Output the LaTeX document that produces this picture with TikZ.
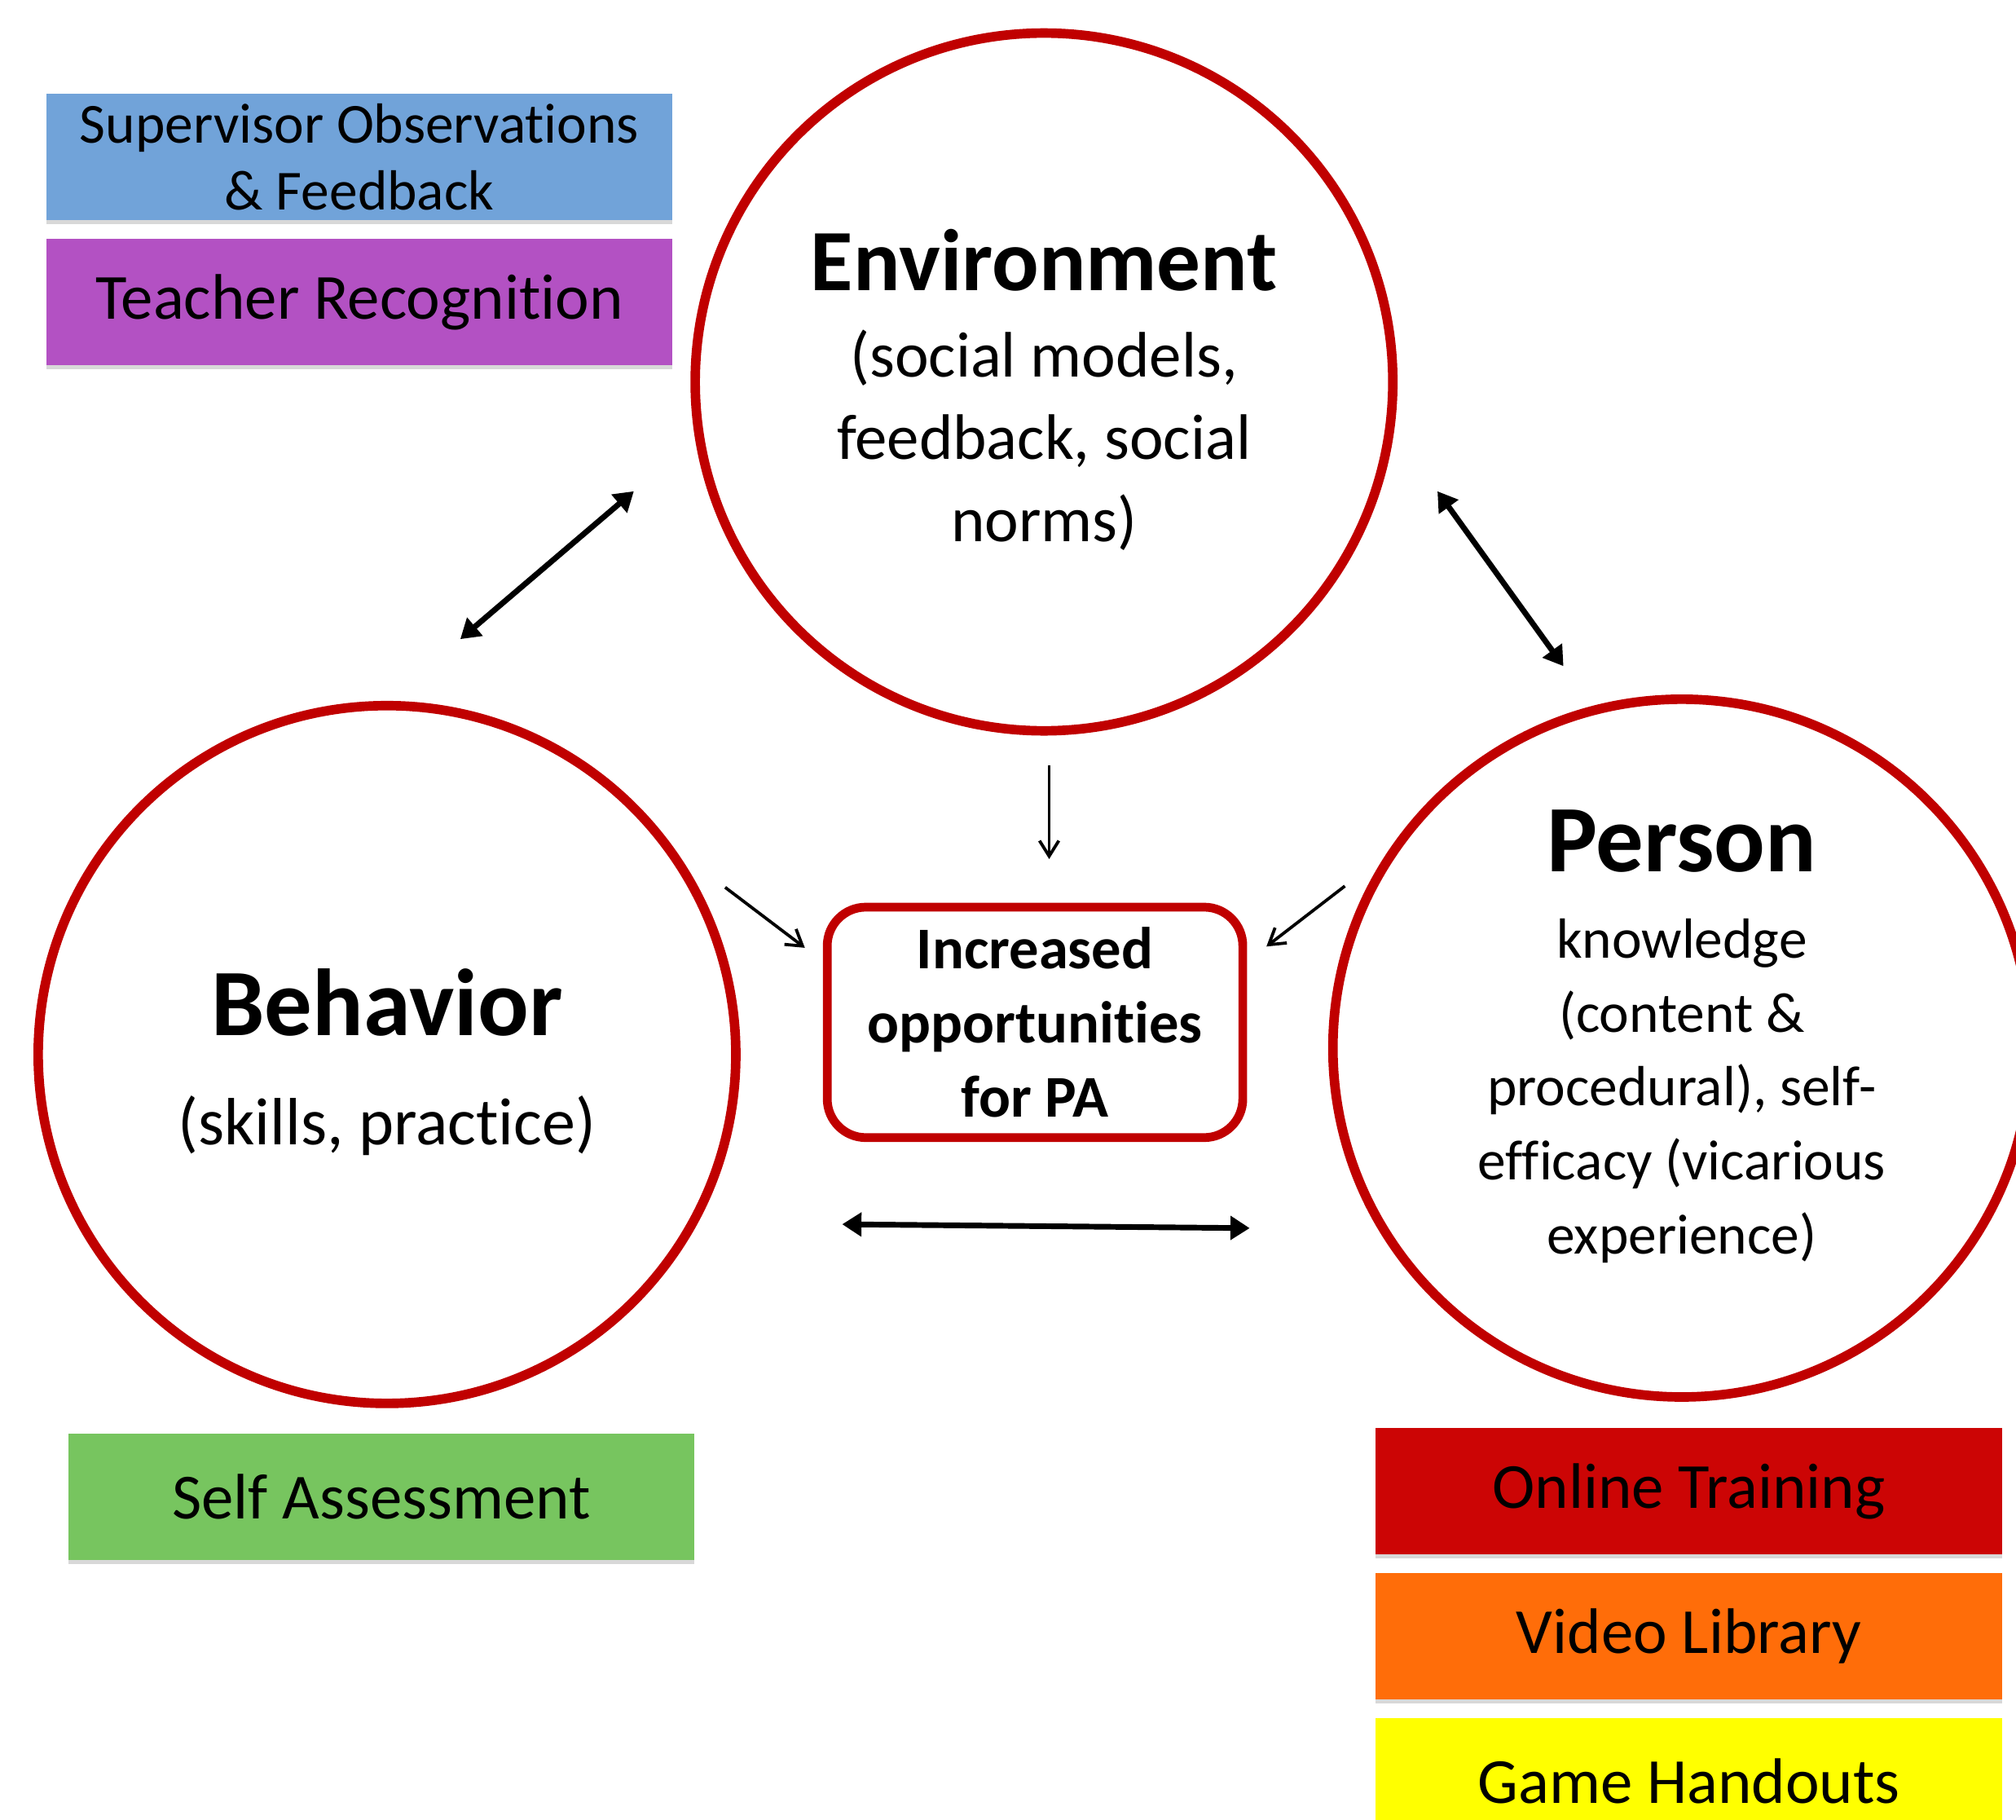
\documentclass[tikz,border=0pt]{standalone}
\usepackage{fontspec}
\setmainfont{Carlito}[Ligatures=NoCommon]
\usetikzlibrary{positioning,arrows.meta,shadows}

\definecolor{ringred}{HTML}{C00000}
\definecolor{supblue}{HTML}{71A3D9}
\definecolor{recpurple}{HTML}{B351C3}
\definecolor{selfgreen}{HTML}{77C55F}
\definecolor{onlred}{HTML}{CC0505}
\definecolor{vidorange}{HTML}{FF6D09}
\definecolor{gameyellow}{HTML}{FFFF00}

\tikzset{
  ring/.style={circle,draw=ringred,line width=3.7pt,minimum size=271.3pt,inner sep=0pt},
  hubbox/.style={rectangle,rounded corners=15pt,draw=ringred,line width=3.4pt,
    minimum width=161.6pt,minimum height=89.6pt,inner sep=0pt,align=center,
    font=\fontsize{23pt}{28.75pt}\selectfont\bfseries},
  tag/.style={rectangle,minimum width=243.5pt,minimum height=49pt,inner sep=0pt,align=center,
    font=\fontsize{25pt}{30pt}\selectfont,
    drop shadow={shadow xshift=0pt,shadow yshift=-1.5pt,opacity=0.3}},
  headtxt/.style={inner sep=0pt,anchor=base,font=\fontsize{37pt}{44pt}\selectfont\bfseries},
  bodytxt/.style={inner sep=0pt,anchor=base,align=center},
  twoway/.style={line width=2.2pt,{Triangle[length=7.5pt,width=9pt]}-{Triangle[length=7.5pt,width=9pt]}},
  oneway/.style={line width=1.2pt,-{Straight Barb[length=6pt,width=7.5pt]}}
}

\begin{document}
\begin{tikzpicture}[x=0.5pt,y=-0.5pt]
\clip (0,0) rectangle (1568,1415);
\fill[white] (0,0) rectangle (1568,1415);

% the three circles
\node[ring] (env) at (812,297) {};
\node[ring] (beh) at (301,820) {};
\node[ring] (per) at (1308,815) {};

% base of a block = base of its last line
\node[headtxt,font=\fontsize{34pt}{40pt}\selectfont\bfseries] (envH) at (812,226) {Environment};
\node[bodytxt,font=\fontsize{25pt}{32pt}\selectfont] (envB) at (812,421)
  {(social models,\\feedback, social\\norms)};

\node[headtxt] (behH) at (301,805) {Behavior};
\node[bodytxt,font=\fontsize{26pt}{32pt}\selectfont] (behB) at (301,890) {(skills, practice)};

\node[headtxt] (perH) at (1308,678) {Person};
\node[bodytxt,font=\fontsize{22pt}{28.75pt}\selectfont] (perB) at (1308,975)
  {knowledge\\(content \&\\procedural), self-\\efficacy (vicarious\\experience)};

% centre box
\node[hubbox] (inc) at (805,795) {Increased\\opportunities\\for PA};

% coloured boxes
\node[tag,fill=supblue,font=\fontsize{22pt}{26pt}\selectfont] (sup) at (279.5,122)
  {Supervisor Observations\\\& Feedback};
\node[tag,fill=recpurple,below=7pt of sup] (rec) {Teacher Recognition};
\node[tag,fill=selfgreen] (self) at (296.5,1164) {Self Assessment};
\node[tag,fill=onlred] (onl) at (1313.5,1159.5) {Online Training};
\node[tag,fill=vidorange,below=7pt of onl] (vid) {Video Library};
\node[tag,fill=gameyellow,below=7pt of vid] (game) {Game Handouts};

% arrow ends
\coordinate (eb1) at (358,497);
\coordinate (eb2) at (493,382);
\coordinate (ep1) at (1118,382);
\coordinate (ep2) at (1216,518);
\coordinate (bp1) at (655,952);
\coordinate (bp2) at (972,955);
\coordinate (e0) at (816,595);
\coordinate (e1) at (816,668);
\coordinate (b0) at (564,690);
\coordinate (b1) at (626,737);
\coordinate (p0) at (1046,689);
\coordinate (p1) at (985,736);

\draw[twoway] (eb1) -- (eb2);
\draw[twoway] (ep1) -- (ep2);
\draw[twoway] (bp1) -- (bp2);
\draw[oneway] (e0) -- (e1);
\draw[oneway] (b0) -- (b1);
\draw[oneway] (p0) -- (p1);
\end{tikzpicture}
\end{document}
